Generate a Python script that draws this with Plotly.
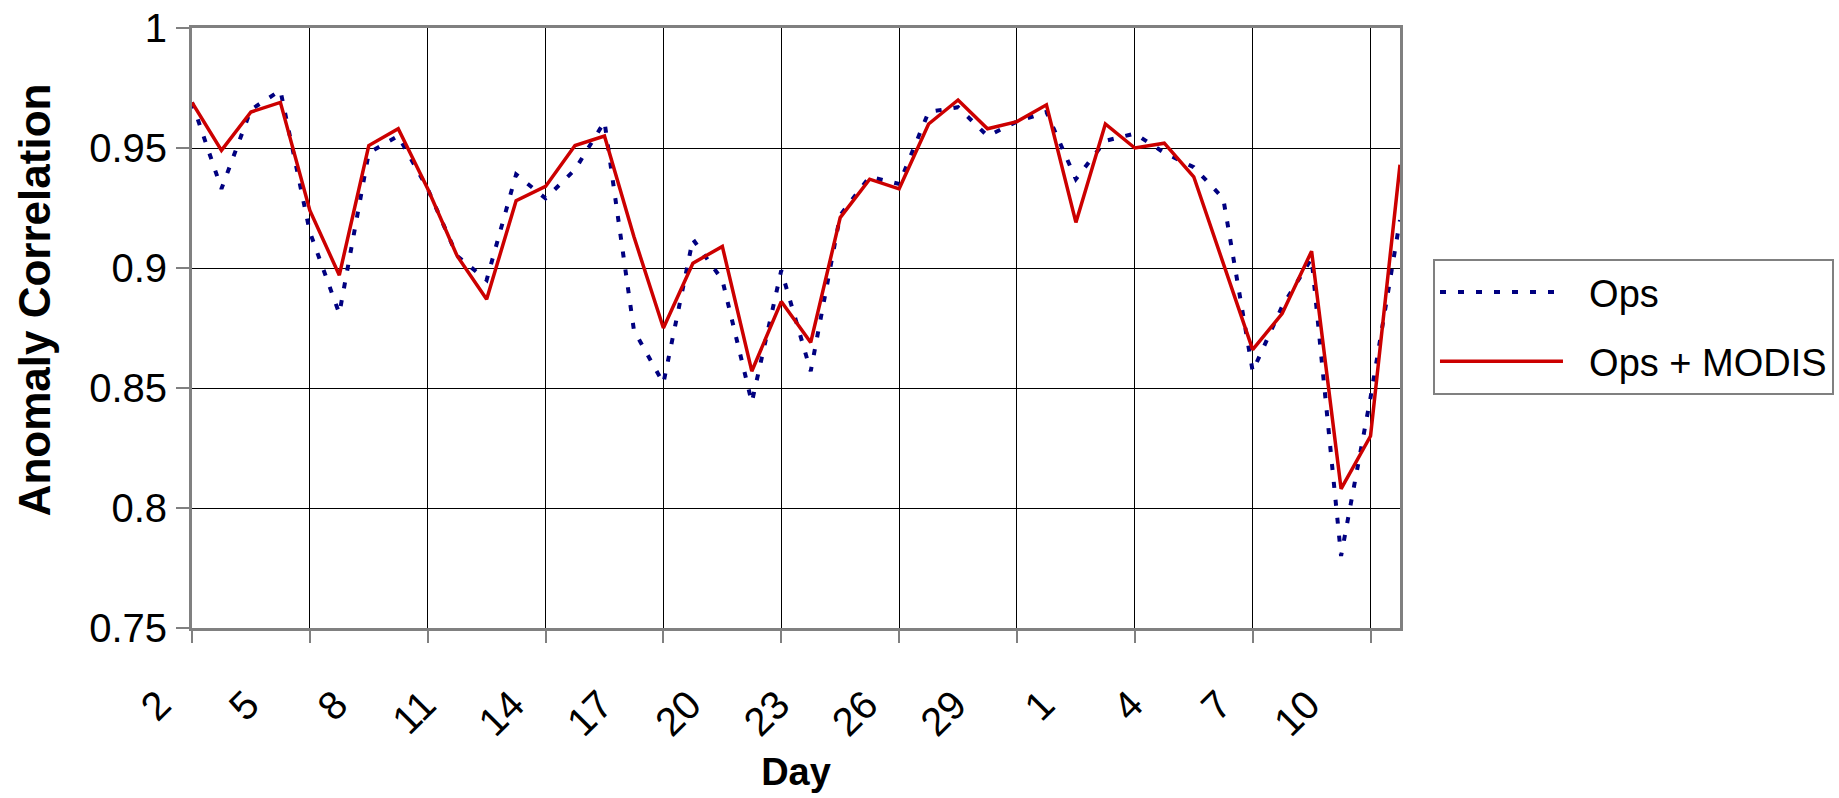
import plotly.graph_objects as go

days = [2, 3, 4, 5, 6, 7, 8, 9, 10, 11, 12, 13, 14, 15, 16, 17, 18, 19, 20, 21,
        22, 23, 24, 25, 26, 27, 28, 29, 30, 31, 1, 2, 3, 4, 5, 6, 7, 8, 9, 10, 11, 12]

ops = [0.969, 0.933, 0.966, 0.974, 0.915, 0.881, 0.948, 0.955, 0.933, 0.905,
       0.895, 0.939, 0.929, 0.941, 0.961, 0.874, 0.852, 0.912, 0.895, 0.844,
       0.899, 0.857, 0.922, 0.938, 0.935, 0.965, 0.967, 0.955, 0.961, 0.965,
       0.937, 0.953, 0.956, 0.948, 0.942, 0.929, 0.857, 0.884, 0.904, 0.780,
       0.846, 0.920]

ops_modis = [0.969, 0.949, 0.965, 0.969, 0.924, 0.897, 0.951, 0.958, 0.933, 0.905,
             0.887, 0.928, 0.934, 0.951, 0.955, 0.913, 0.875, 0.902, 0.909, 0.857,
             0.886, 0.869, 0.921, 0.937, 0.933, 0.960, 0.970, 0.958, 0.961, 0.968,
             0.919, 0.960, 0.950, 0.952, 0.938, 0.902, 0.866, 0.881, 0.907, 0.808,
             0.830, 0.943]

y_ticks = [0.75, 0.8, 0.85, 0.9, 0.95, 1.0]
y_ticktext = ["0.75", "0.8", "0.85", "0.9", "0.95", "1"]

idx = list(range(len(days)))
label_idx = idx[::3]
label_text = [str(days[i]) for i in label_idx]
grid_idx = idx[::4]

FONT = "Arial, 'Liberation Sans', sans-serif"

fig = go.Figure()
fig.add_trace(go.Scatter(
    x=idx, y=ops, mode="lines", name="\u00a0\u00a0Ops", legendgroup="a",
    line=dict(color="#000080", width=4, dash="6px,12px"),
))
fig.add_trace(go.Scatter(
    x=idx, y=ops_modis, mode="lines", name="\u00a0\u00a0Ops + MODIS", legendgroup="b",
    line=dict(color="#CC0000", width=3.5),
))

fig.update_layout(
    width=1839, height=798,
    margin=dict(l=192, r=439, t=27.7, b=169.7, autoexpand=False),
    paper_bgcolor="white", plot_bgcolor="white",
    font=dict(family=FONT, color="black"),
    showlegend=True,
    legend=dict(
        x=1.0273, y=0.6154, xanchor="left", yanchor="top",
        bordercolor="#808080", borderwidth=2,
        font=dict(size=38, family=FONT, color="black"),
        itemwidth=123, tracegroupgap=17,
        entrywidth=320, entrywidthmode="pixels",
        bgcolor="white",
    ),
    xaxis=dict(
        range=[0, len(days) - 1],
        tickmode="array", tickvals=label_idx, ticktext=label_text,
        tickangle=-45, ticks="", showgrid=False,
        tickfont=dict(size=40, family=FONT, color="black"),
        ticklabelshift=-33, ticklabelstandoff=34,
        showline=True, linecolor="#808080", linewidth=3, mirror=True,
        zeroline=False,
        minor=dict(tickmode="array", tickvals=grid_idx, showgrid=True,
                   gridcolor="black", gridwidth=1, ticks="outside",
                   ticklen=12, tickcolor="#808080", tickwidth=1.5),
        title=dict(text="<b>Day</b>", font=dict(size=38, family=FONT, color="black"),
                   standoff=16),
    ),
    yaxis=dict(
        range=[0.75, 1.0],
        tickmode="array", tickvals=y_ticks, ticktext=y_ticktext,
        ticks="outside", ticklen=13, tickcolor="#808080", tickwidth=1.5,
        tickfont=dict(size=40, family=FONT, color="black"),
        ticklabelstandoff=1,
        showgrid=True, gridcolor="black", gridwidth=1,
        showline=True, linecolor="#808080", linewidth=3, mirror=True,
        zeroline=False,
    ),
    annotations=[dict(
        text="<b>Anomaly Correlation</b>", textangle=-90,
        xref="paper", yref="paper", x=-0.1308, y=0.1836,
        xanchor="center", yanchor="bottom", showarrow=False,
        font=dict(size=44, family=FONT, color="black"),
    )],
)

fig.write_html("out.html", config={"displayModeBar": False},
               post_script="document.body.style.margin='0';")
